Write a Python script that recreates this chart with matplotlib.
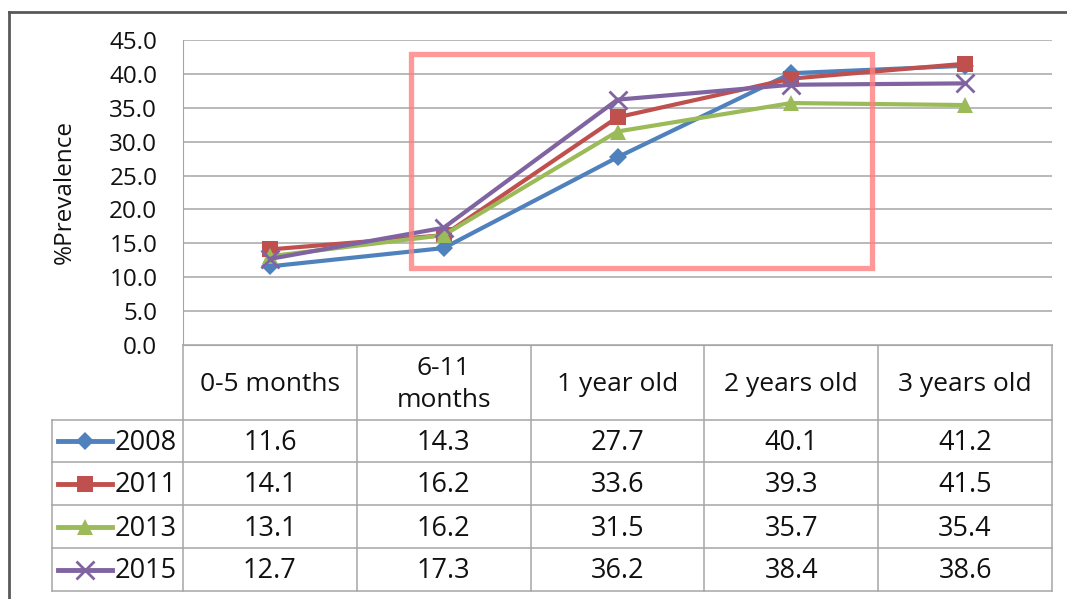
import matplotlib
matplotlib.use("Agg")
import matplotlib.pyplot as plt
from matplotlib.patches import Rectangle

plt.rcParams['font.family'] = ['Open Sans', 'DejaVu Sans']

categories = ["0-5 months", "6-11\nmonths", "1 year old", "2 years old", "3 years old"]
years = ["2008", "2011", "2013", "2015"]
v2008 = [11.6, 14.3, 27.7, 40.1, 41.2]
v2011 = [14.1, 16.2, 33.6, 39.3, 41.5]
v2013 = [13.1, 16.2, 31.5, 35.7, 35.4]
v2015 = [12.7, 17.3, 36.2, 38.4, 38.6]
series = [v2008, v2011, v2013, v2015]
yticks = [0, 5, 10, 15, 20, 25, 30, 35, 40, 45]

colors = ["#4F81BD", "#C0504D", "#9BBB59", "#8064A2"]
markers = ["D", "s", "^", "x"]
msizes = [9, 11, 11, 13]
txt = "#111111"

W, H = 1067, 599
fig = plt.figure(figsize=(W / 100, H / 100), dpi=100)

# pixel layout
left, right, top, bottom = 183, 1052, 40, 345
col_w = (right - left) / len(categories)
row_edges = [345, 420, 462, 505, 548, 591]
leg_left = 52

ax = fig.add_axes([left / W, 1 - bottom / H, (right - left) / W, (bottom - top) / H])
x = list(range(len(categories)))
for vals, c, m, ms in zip(series, colors, markers, msizes):
    kw = dict(markeredgewidth=2) if m == "x" else dict(markeredgewidth=0)
    ax.plot(x, vals, color=c, lw=3, marker=m, markersize=ms, **kw, zorder=3)

ax.set_xlim(-0.5, len(categories) - 0.5)
ax.set_ylim(0, 45)
ax.set_yticks(yticks)
ax.set_yticklabels([f"{t:.1f}" for t in yticks], fontsize=17.5, color=txt)
ax.tick_params(axis="y", length=0, pad=18.5)
ax.set_xticks([])
ax.grid(axis="y", color="#A6A6A6", lw=1.1)
for s in ["top", "right"]:
    ax.spines[s].set_visible(False)
ax.spines["left"].set_color("#A6A6A6")
ax.spines["bottom"].set_color("#A6A6A6")
ax.set_ylabel("%Prevalence", fontsize=17.5, color=txt, labelpad=23)

# highlight box
ax.add_patch(Rectangle((0.81, 11.35), 2.655, 31.6, fill=False,
                       edgecolor="#FF8080", alpha=0.8, lw=3.8, clip_on=False, zorder=5))

# overlay for data table and frame
ov = fig.add_axes([0, 0, 1, 1], zorder=-1)
ov.set_xlim(0, W)
ov.set_ylim(H, 0)
ov.axis("off")

gc = "#A6A6A6"
for i, y in enumerate(row_edges):
    x0 = left if i == 0 else leg_left
    ov.plot([x0, right], [y, y], color=gc, lw=1.1)
for i in range(len(categories) + 1):
    xx = left + i * col_w
    ov.plot([xx, xx], [row_edges[0], row_edges[-1]], color=gc, lw=1.1)
ov.plot([leg_left, leg_left], [row_edges[1], row_edges[-1]], color=gc, lw=1.1)

# header
for i, cat in enumerate(categories):
    ov.text(left + (i + 0.5) * col_w, (row_edges[0] + row_edges[1]) / 2 + 2, cat,
            ha="center", va="center", fontsize=19, color=txt, linespacing=1.4)

# rows with legend keys
for r, (yr, vals, c, m, ms) in enumerate(zip(years, series, colors, markers, msizes)):
    yc = (row_edges[r + 1] + row_edges[r + 2]) / 2
    kw = dict(markeredgewidth=2) if m == "x" else dict(markeredgewidth=0)
    ov.plot([58, 112], [yc, yc], color=c, lw=3.5)
    ov.plot([85], [yc], color=c, marker=m, markersize=ms, **kw)
    ov.text(115, yc + 2, yr, ha="left", va="center", fontsize=19.5, color=txt)
    for i, v in enumerate(vals):
        ov.text(left + (i + 0.5) * col_w, yc + 2, f"{v:.1f}", ha="center", va="center",
                fontsize=19.5, color=txt)

# outer frame
ov.plot([9, W], [12, 12], color="#595959", lw=2)
ov.plot([9, 9], [12, H], color="#595959", lw=2)

fig.savefig("out.png", dpi=100)
